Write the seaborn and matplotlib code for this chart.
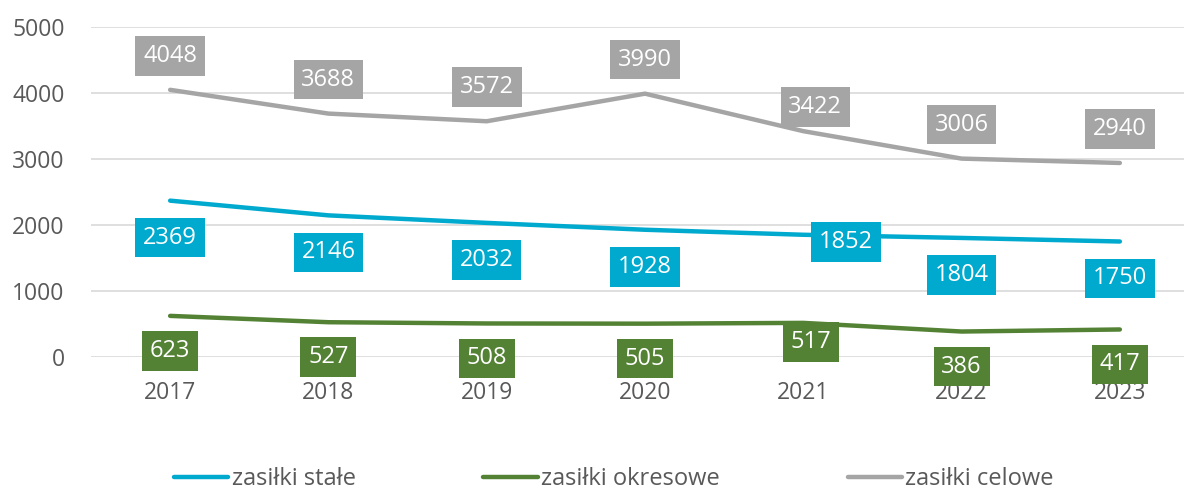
import seaborn as sns
import matplotlib.pyplot as plt
import pandas as pd

years = [2017, 2018, 2019, 2020, 2021, 2022, 2023]
stale = [2369, 2146, 2032, 1928, 1852, 1804, 1750]
okresowe = [623, 527, 508, 505, 517, 386, 417]
celowe = [4048, 3688, 3572, 3990, 3422, 3006, 2940]

names = ['zasiłki stałe', 'zasiłki okresowe', 'zasiłki celowe']
colors = ['#00A9CE', '#548235', '#A5A5A5']

df = pd.DataFrame({
    'rok': years * 3,
    'wartosc': stale + okresowe + celowe,
    'seria': [names[0]] * 7 + [names[1]] * 7 + [names[2]] * 7,
})

sns.set_theme(style="white")
plt.rcParams['font.family'] = ['Open Sans', 'DejaVu Sans']

fig = plt.figure(figsize=(11.84, 4.92), dpi=100)
ax = fig.add_axes([91 / 1184, 135 / 492, 1108 / 1184, 330 / 492])

sns.lineplot(data=df, x='rok', y='wartosc', hue='seria', palette=colors,
             linewidth=3.2, ax=ax, zorder=2)
for line in ax.get_lines():
    line.set_solid_capstyle('round')

# etykiety danych (przesuniecie w pikselach, dodatnie = w gore / w prawo)
offsets = [-37, -35, 34]
special = {(0, 2021): (43, -7), (1, 2021): (8, -19), (2, 2021): (12, 24)}
for i, (vals, col, off) in enumerate(zip([stale, okresowe, celowe], colors, offsets)):
    for x, v in zip(years, vals):
        o = special.get((i, x), (0, off))
        ax.annotate(str(v), (x, v), xytext=o, textcoords='offset pixels',
                    ha='center', va='center', fontsize=17, color='white', zorder=5,
                    bbox=dict(boxstyle='square,pad=0.33', fc=col, ec='none'))

ax.set_xlim(2016.5, 2023.5)
ax.set_ylim(0, 5000)
ax.set_yticks(range(0, 5001, 1000))
ax.set_xticks(years)
ax.set_xticklabels([str(y) for y in years])
ax.yaxis.grid(True, color='#D9D9D9', linewidth=1.2)
ax.xaxis.grid(False)
sns.despine(ax=ax, left=True, bottom=True)
ax.tick_params(axis='y', length=0, pad=19, labelsize=16.5, labelcolor='#595959')
ax.tick_params(axis='x', length=0, pad=17, labelsize=16.5, labelcolor='#595959')
ax.set_xlabel('')
ax.set_ylabel('')

handles, labels = ax.get_legend_handles_labels()
ax.get_legend().remove()
fig.legend(handles, labels, loc='center', bbox_to_anchor=(614 / 1184, 1 - 479 / 492),
           ncol=3, frameon=False, fontsize=17, labelcolor='#595959',
           handlelength=2.3, handletextpad=0.15, columnspacing=5.4,
           borderpad=0.1)

plt.savefig('out.png', dpi=100)
